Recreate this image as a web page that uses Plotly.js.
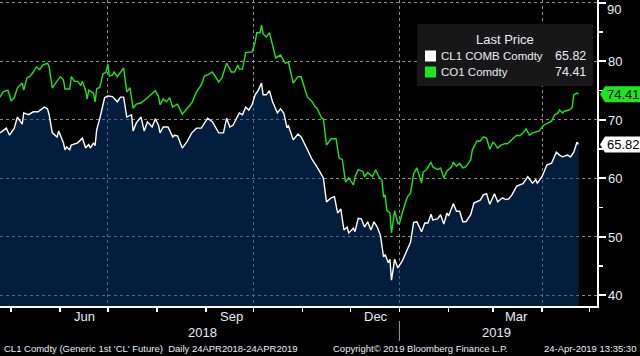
<!DOCTYPE html>
<html><head><meta charset="utf-8">
<script src="https://cdn.plot.ly/plotly-3.0.1.min.js"></script>
<style>html,body{margin:0;padding:0;background:#000;overflow:hidden}#chart{width:640px;height:356px}</style>
</head><body><div id="chart"></div>
<script>
// ---- data ----
const clName = 'CL1 COMB Comdty';
const coName = 'CO1 Comdty';
const clDates = ['2018-04-24','2018-04-28','2018-04-30','2018-05-03','2018-05-05','2018-05-08','2018-05-09','2018-05-12','2018-05-15','2018-05-18','2018-05-22','2018-05-24','2018-05-25','2018-05-27','2018-05-30','2018-05-31','2018-06-03','2018-06-04','2018-06-05','2018-06-07','2018-06-08','2018-06-12','2018-06-15','2018-06-17','2018-06-19','2018-06-20','2018-06-22','2018-06-23','2018-06-24','2018-06-26','2018-06-29','2018-07-01','2018-07-04','2018-07-07','2018-07-09','2018-07-11','2018-07-13','2018-07-16','2018-07-17','2018-07-19','2018-07-22','2018-07-24','2018-07-26','2018-07-29','2018-07-31','2018-08-02','2018-08-03','2018-08-05','2018-08-08','2018-08-11','2018-08-12','2018-08-14','2018-08-17','2018-08-20','2018-08-23','2018-08-26','2018-08-29','2018-09-02','2018-09-05','2018-09-09','2018-09-12','2018-09-14','2018-09-16','2018-09-18','2018-09-22','2018-09-24','2018-09-26','2018-09-28','2018-09-30','2018-10-02','2018-10-04','2018-10-06','2018-10-07','2018-10-09','2018-10-11','2018-10-13','2018-10-16','2018-10-18','2018-10-20','2018-10-22','2018-10-23','2018-10-26','2018-10-29','2018-10-31','2018-11-04','2018-11-07','2018-11-10','2018-11-14','2018-11-16','2018-11-19','2018-11-21','2018-11-23','2018-11-25','2018-11-27','2018-11-29','2018-11-30','2018-12-03','2018-12-04','2018-12-06','2018-12-08','2018-12-10','2018-12-12','2018-12-14','2018-12-16','2018-12-18','2018-12-20','2018-12-22','2018-12-23','2018-12-25','2018-12-26','2018-12-27','2018-12-29','2018-12-31','2019-01-01','2019-01-03','2019-01-08','2019-01-10','2019-01-12','2019-01-15','2019-01-17','2019-01-19','2019-01-21','2019-01-22','2019-01-25','2019-01-27','2019-01-29','2019-01-31','2019-02-01','2019-02-04','2019-02-06','2019-02-08','2019-02-10','2019-02-12','2019-02-15','2019-02-17','2019-02-21','2019-02-23','2019-02-25','2019-02-27','2019-03-02','2019-03-04','2019-03-07','2019-03-09','2019-03-11','2019-03-13','2019-03-16','2019-03-18','2019-03-20','2019-03-23','2019-03-26','2019-03-28','2019-03-29','2019-04-01','2019-04-02','2019-04-04','2019-04-07','2019-04-09','2019-04-10','2019-04-12','2019-04-14','2019-04-17','2019-04-19','2019-04-21','2019-04-23','2019-04-24'];
const clValues = [67.8,68.6,67.4,68.6,70.5,69.3,71.2,70.9,71.4,71.4,72.2,71.9,70.9,67.8,67.1,68.1,66.1,64.9,65.4,64.9,65.7,66.1,66.9,65.2,65.8,65.2,66.1,65.6,68.3,70.3,73.8,74.1,74.0,73.1,73.9,73.9,70.5,70.9,68.1,69.5,70.5,68.1,69.7,68.8,70.2,69.1,67.8,68.8,68.8,67.1,67.4,67.3,65.2,66.3,67.8,68.6,68.6,70.3,69.7,67.8,67.8,70.3,68.8,69.1,71.2,70.9,72.2,71.7,72.6,74.3,75.1,76.3,74.3,74.3,75.0,73.1,71.2,71.9,71.2,68.8,69.0,66.6,67.6,67.1,64.9,63.2,62.0,60.1,56.0,56.7,56.9,54.1,54.8,51.2,51.7,50.7,51.5,50.9,53.2,53.1,51.7,52.6,51.2,52.6,51.7,50.3,46.6,47.0,45.6,46.2,42.6,46.2,44.7,45.2,46.0,49.1,52.5,52.6,50.9,52.4,52.4,53.9,52.9,53.1,53.8,52.2,54.1,53.6,55.7,54.4,54.4,52.6,52.6,53.8,55.8,56.3,57.2,57.4,55.6,57.4,56.0,56.7,56.4,56.5,57.2,58.7,58.9,59.1,60.3,59.2,59.8,59.2,60.3,61.0,62.3,62.6,64.0,64.5,64.0,63.7,64.0,63.7,64.5,66.2,65.82];
const coDates = ['2018-04-24','2018-04-26','2018-04-29','2018-05-01','2018-05-03','2018-05-05','2018-05-08','2018-05-09','2018-05-11','2018-05-13','2018-05-15','2018-05-17','2018-05-19','2018-05-21','2018-05-24','2018-05-25','2018-05-27','2018-05-29','2018-06-01','2018-06-03','2018-06-04','2018-06-07','2018-06-08','2018-06-10','2018-06-12','2018-06-14','2018-06-15','2018-06-17','2018-06-18','2018-06-19','2018-06-22','2018-06-23','2018-06-24','2018-06-26','2018-06-28','2018-06-30','2018-07-01','2018-07-02','2018-07-04','2018-07-05','2018-07-07','2018-07-11','2018-07-13','2018-07-15','2018-07-17','2018-07-19','2018-07-22','2018-07-26','2018-07-29','2018-07-31','2018-08-02','2018-08-03','2018-08-05','2018-08-07','2018-08-09','2018-08-11','2018-08-12','2018-08-14','2018-08-17','2018-08-20','2018-08-23','2018-08-26','2018-08-29','2018-08-31','2018-09-02','2018-09-05','2018-09-09','2018-09-11','2018-09-14','2018-09-17','2018-09-19','2018-09-21','2018-09-22','2018-09-24','2018-09-26','2018-09-28','2018-09-30','2018-10-02','2018-10-03','2018-10-05','2018-10-06','2018-10-07','2018-10-09','2018-10-11','2018-10-15','2018-10-18','2018-10-21','2018-10-23','2018-10-26','2018-10-29','2018-10-31','2018-11-02','2018-11-04','2018-11-07','2018-11-09','2018-11-10','2018-11-13','2018-11-14','2018-11-16','2018-11-19','2018-11-22','2018-11-24','2018-11-26','2018-11-28','2018-11-30','2018-12-03','2018-12-04','2018-12-06','2018-12-09','2018-12-10','2018-12-12','2018-12-15','2018-12-17','2018-12-19','2018-12-21','2018-12-22','2018-12-23','2018-12-24','2018-12-26','2018-12-27','2018-12-29','2018-12-31','2019-01-01','2019-01-03','2019-01-06','2019-01-08','2019-01-10','2019-01-12','2019-01-15','2019-01-16','2019-01-18','2019-01-21','2019-01-22','2019-01-25','2019-01-27','2019-01-29','2019-01-31','2019-02-03','2019-02-04','2019-02-06','2019-02-08','2019-02-10','2019-02-12','2019-02-15','2019-02-16','2019-02-19','2019-02-21','2019-02-23','2019-02-25','2019-02-27','2019-03-01','2019-03-02','2019-03-04','2019-03-06','2019-03-09','2019-03-10','2019-03-12','2019-03-14','2019-03-16','2019-03-18','2019-03-20','2019-03-22','2019-03-24','2019-03-26','2019-03-28','2019-03-30','2019-04-02','2019-04-05','2019-04-07','2019-04-09','2019-04-11','2019-04-12','2019-04-14','2019-04-15','2019-04-18','2019-04-20','2019-04-21','2019-04-23','2019-04-24'];
const coValues = [73.9,74.8,75.1,73.3,73.8,75.5,76.3,75.1,77.2,77.5,78.2,79.1,78.6,79.4,79.7,79.1,75.5,76.3,77.4,76.9,75.3,75.3,77.4,76.6,76.6,75.9,76.6,75.1,73.6,75.1,74.6,73.1,75.3,75.6,77.9,78.2,79.6,77.5,77.7,78.2,77.4,78.9,74.8,75.5,72.0,72.7,72.9,73.8,74.6,75.0,74.0,72.6,73.6,73.1,73.8,72.2,72.4,72.7,71.0,72.0,72.9,74.8,76.0,77.5,77.7,78.2,76.5,77.2,79.7,78.2,78.2,79.4,78.7,78.7,81.5,81.6,81.6,83.3,84.9,84.9,86.2,84.7,84.2,84.9,80.6,81.1,79.7,79.9,76.3,77.4,77.4,75.6,73.9,73.1,72.2,72.0,70.3,70.2,65.7,66.8,66.8,63.5,63.2,59.4,60.1,58.9,60.3,61.5,61.2,60.3,61.0,60.3,61.5,60.3,59.7,56.8,57.2,54.6,54.1,50.7,54.5,52.3,52.3,54.3,56.8,57.5,60.8,61.8,59.2,61.1,61.5,62.8,62.0,61.5,61.8,60.1,61.3,62.0,62.8,62.1,62.6,61.8,62.0,63.2,64.9,66.4,66.4,67.1,66.9,65.0,66.2,66.0,65.2,65.7,66.0,65.9,66.4,66.9,67.4,67.3,67.8,68.5,67.4,67.8,68.0,68.1,69.1,69.5,69.8,70.9,71.2,71.7,71.2,71.5,71.7,72.1,74.3,74.6,74.41];
const yTickStep = 10;
const gridDates = ['2018-07-01','2018-10-01','2019-01-01','2019-04-01'];
const monthLabels = ['Jun','Sep','Dec','Mar'];
const monthLabelDates = ['2018-06-16','2018-09-17','2018-12-17','2019-03-16'];
const yearLabels = ['2018','2019'];
const yearLabelDates = ['2018-08-30','2019-03-03'];
const yearSplitDate = '2019-01-01';
const legendTitle = 'Last Price';
const footerLeft = "CL1 Comdty (Generic 1st 'CL' Future)  Daily 24APR2018-24APR2019";
const footerMid = 'Copyright\u00A9 2019 Bloomberg Finance L.P.';
const footerRight = '24-Apr-2019 13:35:30';

// ---- styling ----
const FONT = 'Liberation Sans, Arial, sans-serif';
const TXT = '#e8edf5';
const GREEN = '#1ee61e';
const NAVY = 'rgba(4,62,125,0.48)';
const GRID = '#8c8c8c';
const W = 640, H = 356, M = {l:0, r:43, t:0, b:50};
const PW = W - M.l - M.r, PH = H - M.t - M.b;
const yRange = [38.2, 90.51];
const px = v => v / PW;                 // pixel -> paper x
const py = v => (PH - v) / PH;          // pixel -> paper y
const vToPy = v => (v - yRange[0]) / (yRange[1] - yRange[0]);

const clLast = clValues[clValues.length - 1];
const coLast = coValues[coValues.length - 1];

const traces = [
  {x: clDates, y: clValues, type: 'scatter', mode: 'lines', name: clName,
   line: {color: '#ffffff', width: 1.4}, fill: 'tozeroy', fillcolor: NAVY, hoverinfo: 'skip'},
  {x: coDates, y: coValues, type: 'scatter', mode: 'lines', name: coName,
   line: {color: GREEN, width: 1.4}, hoverinfo: 'skip'}
];

const annotations = [];
const shapes = [];
monthLabels.forEach((t, i) => annotations.push({x: monthLabelDates[i], xref: 'x', y: py(316), yref: 'paper',
  text: t, showarrow: false, xanchor: 'center', yanchor: 'middle', font: {family: FONT, size: 13, color: TXT}}));
yearLabels.forEach((t, i) => annotations.push({x: yearLabelDates[i], xref: 'x', y: py(332), yref: 'paper',
  text: t, showarrow: false, xanchor: 'center', yanchor: 'middle', font: {family: FONT, size: 13, color: TXT}}));
shapes.push({type: 'line', xref: 'x', yref: 'paper', x0: yearSplitDate, x1: yearSplitDate, y0: py(321), y1: py(341),
  line: {color: '#9a9a9a', width: 1}});
// top tick label (pushed down so it stays inside the page, like the original)
const topTick = Math.floor(yRange[1] / yTickStep) * yTickStep;
annotations.push({x: px(605), xref: 'paper', y: py(10), yref: 'paper', text: String(topTick), showarrow: false,
  xanchor: 'left', yanchor: 'middle', font: {family: FONT, size: 13, color: TXT}});
// footer
annotations.push({x: px(2), xref: 'paper', y: py(348), yref: 'paper', text: footerLeft, showarrow: false,
  xanchor: 'left', yanchor: 'middle', font: {family: FONT, size: 9.5, color: TXT}});
annotations.push({x: px(331), xref: 'paper', y: py(348), yref: 'paper', text: footerMid, showarrow: false,
  xanchor: 'left', yanchor: 'middle', font: {family: FONT, size: 9.5, color: TXT}});
annotations.push({x: px(638), xref: 'paper', y: py(348), yref: 'paper', text: footerRight, showarrow: false,
  xanchor: 'right', yanchor: 'middle', font: {family: FONT, size: 9.5, color: TXT}});

// legend box
shapes.push({type: 'rect', xref: 'paper', yref: 'paper', x0: px(417), x1: px(593), y0: py(86), y1: py(24),
  fillcolor: '#171717', line: {width: 0}, layer: 'above'});
annotations.push({x: px(505), xref: 'paper', y: py(40), yref: 'paper', text: legendTitle, showarrow: false,
  xanchor: 'center', yanchor: 'middle', font: {family: FONT, size: 13, color: TXT}});
[[clName, clLast, '#ffffff', 56], [coName, coLast, GREEN, 72]].forEach(([name, val, col, yc]) => {
  shapes.push({type: 'rect', xref: 'paper', yref: 'paper', x0: px(425), x1: px(436), y0: py(yc + 5.5), y1: py(yc - 5.5),
    fillcolor: col, line: {width: 0}, layer: 'above'});
  annotations.push({x: px(439), xref: 'paper', y: py(yc), yref: 'paper', text: name, showarrow: false,
    xanchor: 'left', yanchor: 'middle', font: {family: FONT, size: 11.5, color: TXT}});
  annotations.push({x: px(588), xref: 'paper', y: py(yc), yref: 'paper', text: val.toFixed(2), showarrow: false,
    xanchor: 'right', yanchor: 'middle', font: {family: FONT, size: 12.5, color: TXT}});
});

// last-value flags on the right axis
[[coLast, GREEN], [clLast, '#ffffff']].forEach(([val, col]) => {
  const yc = vToPy(val), h = 8 / PH;
  const x0 = px(600), x1 = px(605), x2 = px(640);
  shapes.push({type: 'path', xref: 'paper', yref: 'paper',
    path: `M ${x0} ${yc} L ${x1} ${yc + h} L ${x2} ${yc + h} L ${x2} ${yc - h} L ${x1} ${yc - h} Z`,
    fillcolor: col, line: {width: 0}, layer: 'above'});
  annotations.push({x: px(605), xref: 'paper', y: val, yref: 'y', text: val.toFixed(2), showarrow: false,
    xanchor: 'left', yanchor: 'middle', font: {family: FONT, size: 13, color: '#000000'}});
});

const layout = {
  width: W, height: H, margin: M, paper_bgcolor: '#000000', plot_bgcolor: '#000000', showlegend: false,
  font: {family: FONT, color: TXT},
  xaxis: {type: 'date', range: ['2018-04-24', '2019-05-05 16:00'], tickmode: 'array', tickvals: gridDates,
    ticktext: gridDates.map(() => ''), showgrid: true, gridcolor: GRID, griddash: '3px,3px', gridwidth: 1,
    ticks: 'outside', ticklen: 4, tickcolor: '#ffffff', tickwidth: 1.5, showline: true, linecolor: '#ffffff',
    linewidth: 1.5, zeroline: false, fixedrange: true,
    minor: {dtick: 'M1', tick0: '2018-05-01', ticks: 'outside', ticklen: 4, tickcolor: '#ffffff', tickwidth: 1.5, showgrid: false}},
  yaxis: {side: 'right', range: yRange, dtick: yTickStep, tick0: 0, showgrid: true, gridcolor: GRID,
    griddash: '3px,3px', gridwidth: 1, ticks: 'outside', ticklen: 7, tickwidth: 2, tickcolor: '#ffffff',
    showline: true, linecolor: '#ffffff', linewidth: 1.5, zeroline: false, fixedrange: true,
    tickfont: {family: FONT, size: 13, color: TXT},
    minor: {dtick: 5, tick0: 0, ticks: 'outside', ticklen: 4, tickcolor: '#ffffff', tickwidth: 1.5, showgrid: false}},
  annotations: annotations, shapes: shapes
};
Plotly.newPlot('chart', traces, layout, {staticPlot: true, displayModeBar: false});
</script></body></html>
